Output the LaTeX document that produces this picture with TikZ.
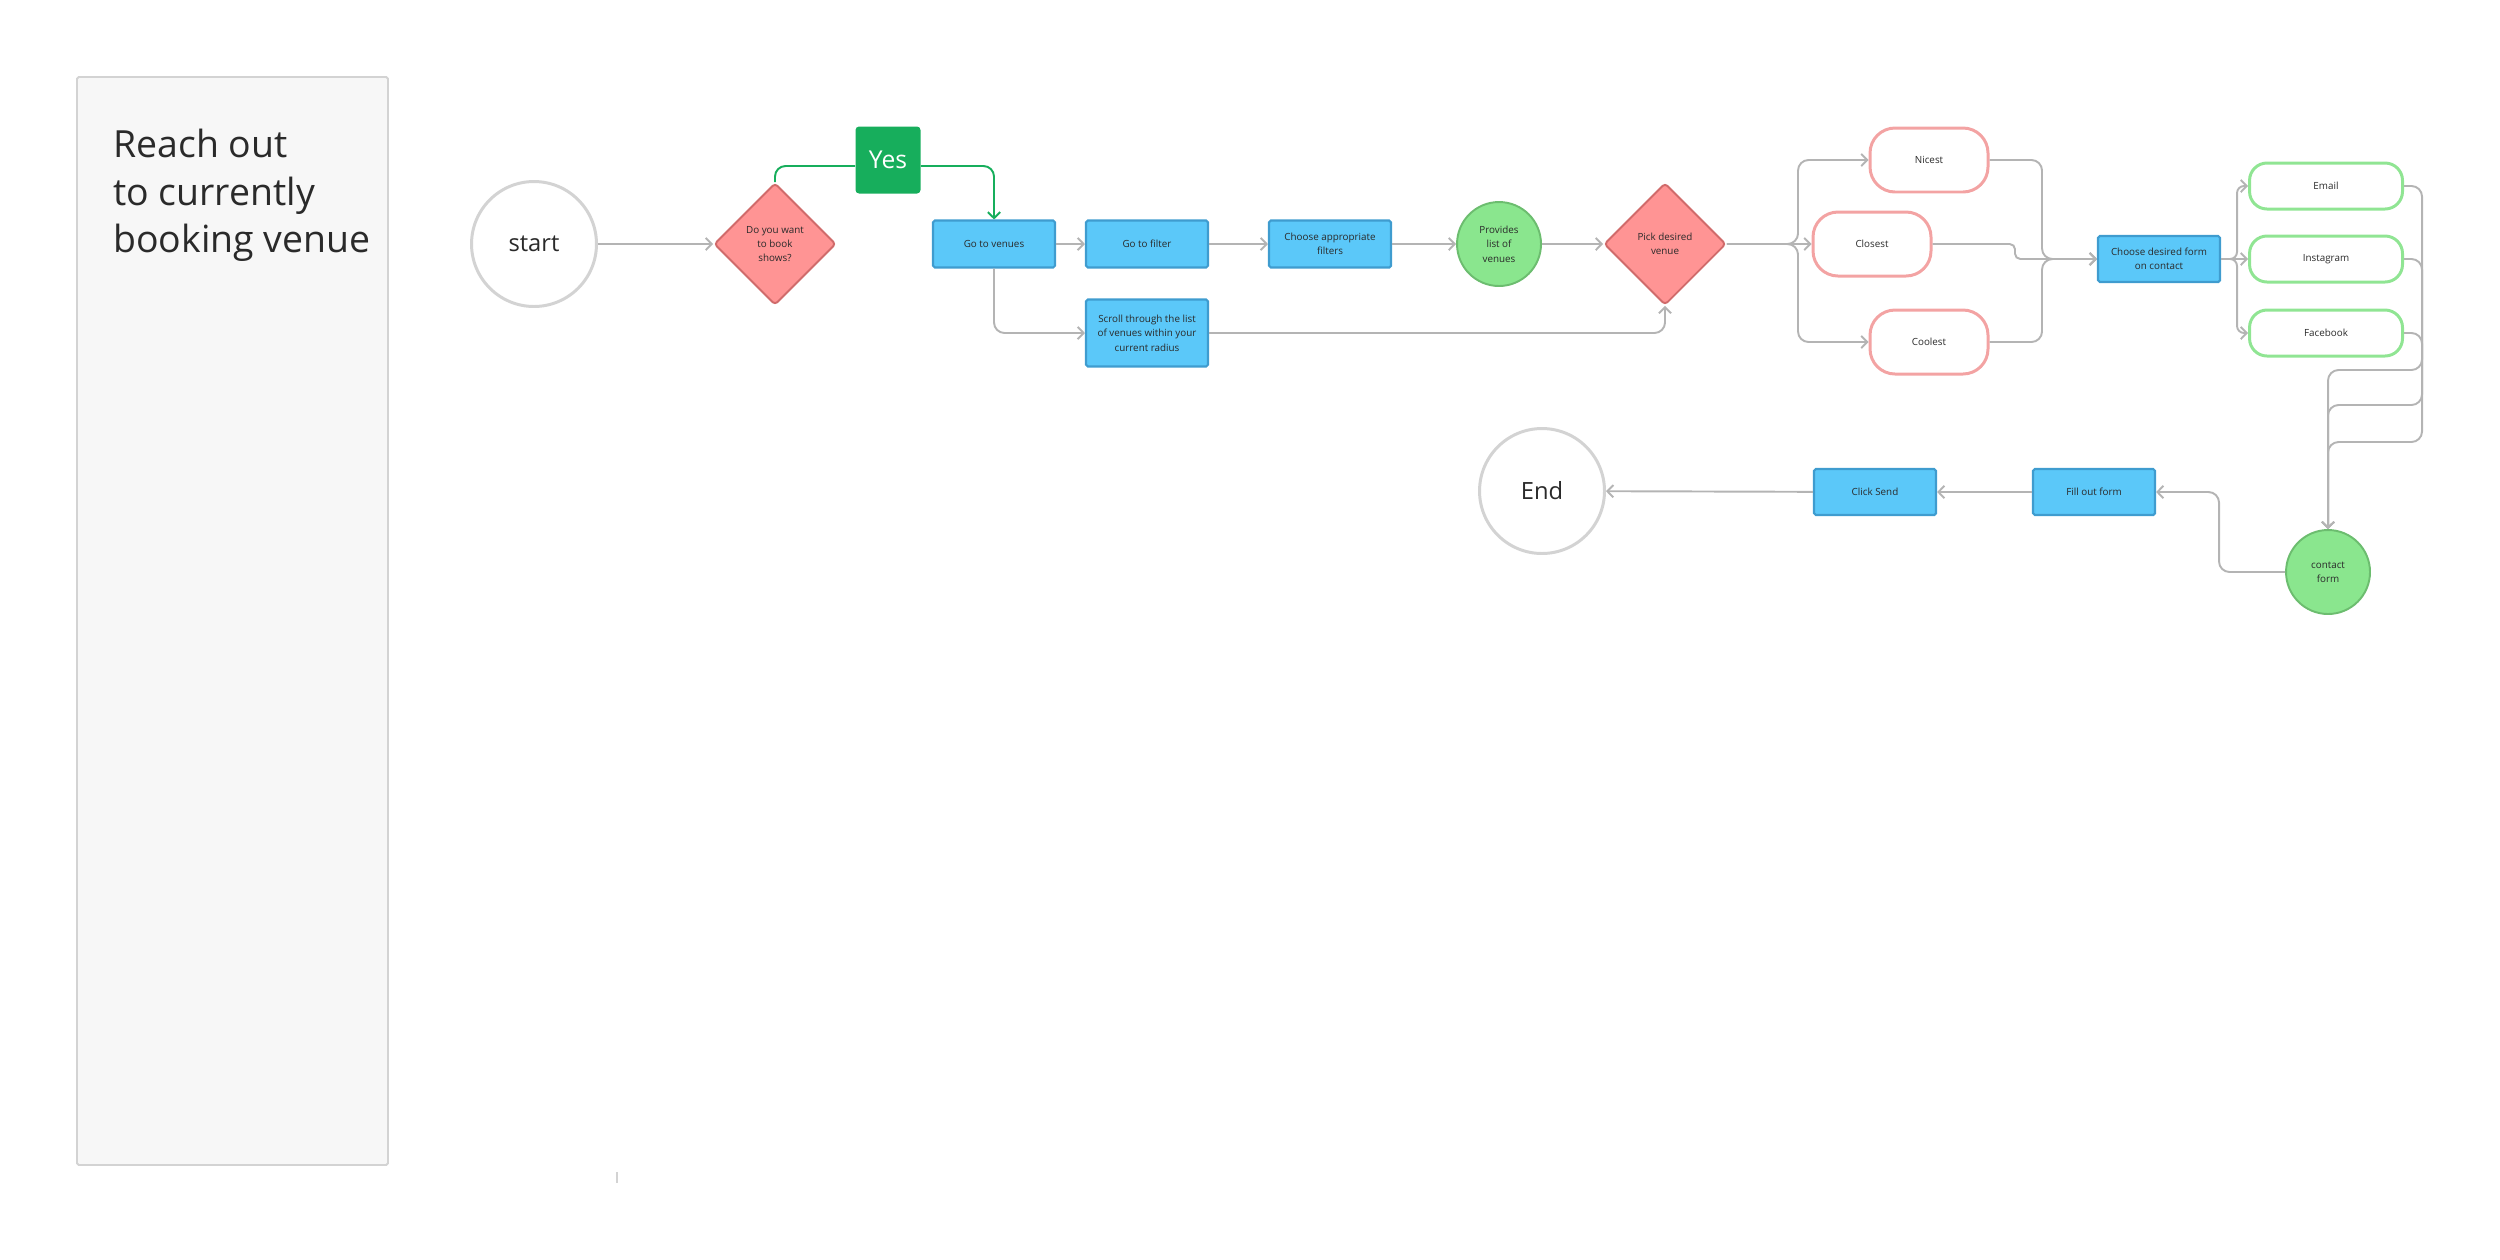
\documentclass[tikz,border=0pt]{standalone}
\usepackage{fontspec}
\setmainfont{Open Sans}
\usetikzlibrary{shapes.geometric,arrows.meta}
\definecolor{boxblue}{HTML}{5BC8F9}
\definecolor{boxedge}{HTML}{3F9CCF}
\definecolor{askred}{HTML}{FF9494}
\definecolor{askedge}{HTML}{D06B6B}
\definecolor{ballgreen}{HTML}{8AE68E}
\definecolor{balledge}{HTML}{6CBD6F}
\definecolor{pillpink}{HTML}{F3A3A3}
\definecolor{pillgreen}{HTML}{90E593}
\definecolor{yesgreen}{HTML}{17AE5C}
\definecolor{linegray}{HTML}{B4B4B4}
\definecolor{ringgray}{HTML}{D3D3D3}
\definecolor{panelgray}{HTML}{F7F7F7}
\definecolor{inkgray}{HTML}{2A2A2A}
\newcommand{\tinyfont}{\fontsize{5.6}{8.2}\selectfont}

\begin{document}
\begin{tikzpicture}[x=0.02cm, y=-0.02cm,
  every node/.style={text=inkgray, align=center, font=\tinyfont},
  stepbox/.style={draw=boxedge, fill=boxblue, line width=1.2pt, rounded corners=1pt,
    minimum width=2.44cm, minimum height=0.94cm, inner sep=1pt},
  askbox/.style={diamond, draw=askedge, fill=askred, line width=1.1pt, rounded corners=2pt,
    minimum size=2.44cm, inner sep=0pt},
  ball/.style={circle, draw=balledge, fill=ballgreen, line width=1.1pt,
    minimum size=1.68cm, inner sep=0pt},
  ring/.style={circle, draw=ringgray, fill=white, line width=1.7pt,
    minimum size=2.5cm, font=\fontsize{13.5}{16}\selectfont},
  sortpill/.style={draw=pillpink, line width=1.7pt, rounded corners=0.5cm,
    minimum width=2.36cm, minimum height=1.28cm},
  mediapill/.style={draw=pillgreen, line width=1.7pt, rounded corners=0.35cm,
    minimum width=3.06cm, minimum height=0.92cm},
  link/.style={draw=linegray, line width=1.1pt, rounded corners=6pt,
    -{Straight Barb[length=3.4pt,width=7pt]}},
  plain/.style={draw=linegray, line width=1.1pt, rounded corners=6pt},
]
  \useasboundingbox (0,0) rectangle (2500,1259);

  % side panel with the title
  \filldraw[fill=panelgray, draw=ringgray, line width=1.1pt, rounded corners=1pt]
    (77,77) rectangle (388,1165);
  \node[anchor=north west, align=left, inner sep=0pt, font=\fontsize{21.3}{27}\selectfont]
    (title) at (113,129) {Reach out\\to currently\\booking venue};
  \draw[ringgray, line width=1.5pt] (617,1172) -- (617,1183);

  % top row
  \node[ring] (start) at (534,244) {start};
  \node[askbox] (book) at (775,244) {Do you want\\to book\\shows?};
  \node[fill=yesgreen, rounded corners=2pt, minimum width=1.3cm, minimum height=1.34cm,
    text=white, font=\fontsize{14}{16}\selectfont] (yes) at (888,160) {Yes};
  \node[stepbox] (venues) at (994,244) {Go to venues};
  \node[stepbox] (filter) at (1147,244) {Go to filter};
  \node[stepbox] (filters) at (1330,244) {Choose appropriate\\filters};
  \node[ball] (list) at (1499,244) {Provides\\list of\\venues};
  \node[askbox] (pick) at (1665,244) {Pick desired\\venue};
  \node[stepbox, minimum height=1.34cm] (scroll) at (1147,333)
    {Scroll through the list\\of venues within your\\current radius};

  % sorting choices
  \node[sortpill] (nicest) at (1929,160) {Nicest};
  \node[sortpill] (closest) at (1872,244) {Closest};
  \node[sortpill] (coolest) at (1929,342) {Coolest};
  \node[stepbox, minimum height=0.92cm] (form) at (2159,259) {Choose desired form\\on contact};

  % ways to reach out
  \node[mediapill] (email) at (2326,186) {Email};
  \node[mediapill] (insta) at (2326,259) {Instagram};
  \node[mediapill] (fb) at (2326,333) {Facebook};
  \node[ball] (contact) at (2328,572) {contact\\form};

  % bottom row
  \node[stepbox, minimum height=0.92cm] (fill) at (2094,492) {Fill out form};
  \node[stepbox, minimum height=0.92cm] (send) at (1875,492) {Click Send};
  \node[ring] (end) at (1542,491) {End};

  \coordinate (fork) at (1798,244);
  \coordinate (merge) at (2042,259);
  \coordinate (jog) at (2015,244);
  \coordinate (fork2) at (2237,259);
  \coordinate (bendE) at (2422,442);
  \coordinate (bendI) at (2422,405);
  \coordinate (bendF) at (2422,370);
  \coordinate (riser) at (2219,572);

  \draw[link] (start) -- (book);
  \draw[plain, draw=yesgreen] (book.north) |- ([yshift=-0.12cm]yes.west);
  \draw[link, draw=yesgreen] ([yshift=-0.12cm]yes.east) -| (venues.north);
  \draw[link] (venues) -- (filter);
  \draw[link] (filter) -- (filters);
  \draw[link] (filters) -- (list);
  \draw[link] (list) -- (pick);
  \draw[link] (venues.south) |- (scroll.west);
  \draw[link] (scroll.east) -| (pick.south);

  \draw[link] (pick.east) -- (fork) |- (nicest.west);
  \draw[link] (pick.east) -- (closest.west);
  \draw[link] (pick.east) -- (fork) |- (coolest.west);
  \draw[link] (nicest.east) -| (merge) -- (form.west);
  \draw[link] (coolest.east) -| (merge) -- (form.west);
  \draw[link, rounded corners=3pt] (closest.east) -- (jog) |- (form.west);

  \draw[link, rounded corners=4pt] (form.east) -- (fork2) |- (email.west);
  \draw[link, rounded corners=4pt] (form.east) -- (insta.west);
  \draw[link, rounded corners=4pt] (form.east) -- (fork2) |- (fb.west);
  \draw[link] (email.east) -| (bendE) -| (contact.north);
  \draw[link] (insta.east) -| (bendI) -| (contact.north);
  \draw[link] (fb.east) -| (bendF) -| (contact.north);

  \draw[link] (contact.west) -- (riser) |- (fill.east);
  \draw[link] (fill) -- (send);
  \draw[link] (send) -- (end);
\end{tikzpicture}
\end{document}
